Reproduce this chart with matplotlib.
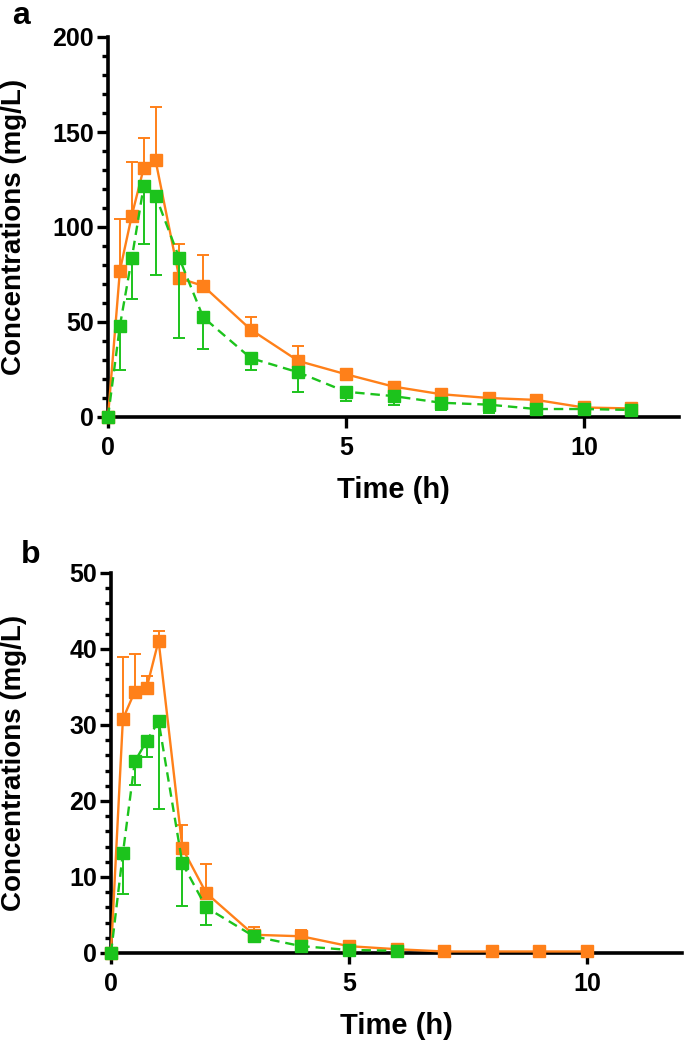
import matplotlib
matplotlib.use('Agg')
import matplotlib.pyplot as plt
import numpy as np
from matplotlib.ticker import MultipleLocator

plt.rcParams['font.family'] = ['Liberation Sans', 'DejaVu Sans']
plt.rcParams['font.weight'] = 'bold'

ORANGE = '#FF8019'
GREEN = '#1CC31C'

# panel a
time_a_orange = [0, 0.25, 0.5, 0.75, 1, 1.5, 2, 3, 4, 5, 6, 7, 8, 9, 10, 11]
mean_a_orange = [0, 77, 106, 131, 135, 73, 69, 46, 29.5, 22.5, 16, 12, 10, 9, 5, 4.5]
sd_a_orange = [0, 27, 28, 16, 28, 18, 16, 6.5, 8, 2, 1.5, 1.5, 1.5, 2.5, 0.5, 0.5]

time_a_green = [0, 0.25, 0.5, 0.75, 1, 1.5, 2, 3, 4, 5, 6, 7, 8, 9, 10, 11]
mean_a_green = [0, 48, 83.5, 121.5, 116.5, 83.5, 52.5, 31, 23.5, 13.3, 11, 7.5, 6.5, 4.2, 4.2, 3.7]
sd_a_green = [0, 23.5, 21.5, 30.5, 42, 42, 16.5, 6.5, 10.5, 5, 4.5, 3.8, 4.2, 1, 0.5, 0.5]

# panel b
time_b_orange = [0, 0.25, 0.5, 0.75, 1, 1.5, 2, 3, 4, 5, 6, 7, 8, 9, 10]
mean_b_orange = [0, 30.8, 34.4, 34.9, 41.1, 13.8, 7.9, 2.4, 2.2, 0.9, 0.5, 0.2, 0.2, 0.2, 0.2]
sd_b_orange = [0, 8.1, 4.9, 1.5, 1.3, 3.1, 3.8, 1.0, 0.8, 0.2, 0.1, 0, 0, 0, 0]

time_b_green = [0, 0.25, 0.5, 0.75, 1, 1.5, 2, 3, 4, 5, 6]
mean_b_green = [0, 13.1, 25.2, 27.9, 30.5, 11.8, 6.0, 2.2, 0.9, 0.4, 0.3]
sd_b_green = [0, 5.3, 3.1, 2.1, 11.6, 5.6, 2.3, 0.8, 0.3, 0.1, 0.1]

W, H = 685, 1044
fig = plt.figure(figsize=(W / 100, H / 100), dpi=100)


def panel(rect, t_o, m_o, s_o, t_g, m_g, s_g, ymax, ymajor, yminor):
    ax = fig.add_axes(rect)
    zeros_o = np.zeros(len(s_o))
    zeros_g = np.zeros(len(s_g))
    # orange: upper error only, solid line
    ax.errorbar(t_o, m_o, yerr=[zeros_o, s_o], color=ORANGE, lw=1.7, marker='s', ms=9,
                mec=ORANGE, ecolor=ORANGE, elinewidth=1.4, capsize=4.5, capthick=1.4,
                clip_on=False, zorder=3)
    # green: lower error only, dashed line
    ax.errorbar(t_g, m_g, yerr=[s_g, zeros_g], color=GREEN, lw=1.7, ls=(0, (4, 2.5)), marker='s',
                ms=9, mec=GREEN, ecolor=GREEN, elinewidth=1.4, capsize=4.5, capthick=1.4,
                clip_on=False, zorder=4)
    ax.set_xlim(0, 12)
    ax.set_ylim(0, ymax)
    ax.xaxis.set_major_locator(MultipleLocator(5))
    ax.yaxis.set_major_locator(MultipleLocator(ymajor))
    ax.yaxis.set_minor_locator(MultipleLocator(yminor))
    for s in ['top', 'right']:
        ax.spines[s].set_visible(False)
    for s in ['left', 'bottom']:
        ax.spines[s].set_linewidth(2.6)
        ax.spines[s].set_zorder(2)
    ax.tick_params(axis='both', which='major', direction='out', length=8, width=2.4,
                   labelsize=18)
    ax.tick_params(axis='y', which='minor', direction='out', length=4.5, width=2.4)
    ax.tick_params(axis='y', which='major', pad=2)
    ax.tick_params(axis='x', which='major', pad=6)
    ax.set_xlabel('Time (h)', fontsize=21, fontweight='bold', va='center')
    ax.xaxis.set_label_coords(0.5, -0.193)
    ax.set_ylabel('Concentrations (mg/L)', fontsize=20, fontweight='bold', va='center')
    ax.yaxis.set_label_coords((14 - rect[0] * W) / (rect[2] * W), 0.5)
    return ax


panel([108 / W, 1 - 417 / H, 571 / W, 380 / H],
      time_a_orange, mean_a_orange, sd_a_orange,
      time_a_green, mean_a_green, sd_a_green,
      200, 50, 10)
panel([111 / W, 1 - 953 / H, 571 / W, 380 / H],
      time_b_orange, mean_b_orange, sd_b_orange,
      time_b_green, mean_b_green, sd_b_green,
      50, 10, 2)

fig.text(12 / W, 1 - 1 / H, 'a', fontsize=23, fontweight='bold', ha='left', va='top')
fig.text(21 / W, 1 - 563 / H, 'b', fontsize=23, fontweight='bold', ha='left', va='baseline')

fig.savefig('out.png', dpi=100)
